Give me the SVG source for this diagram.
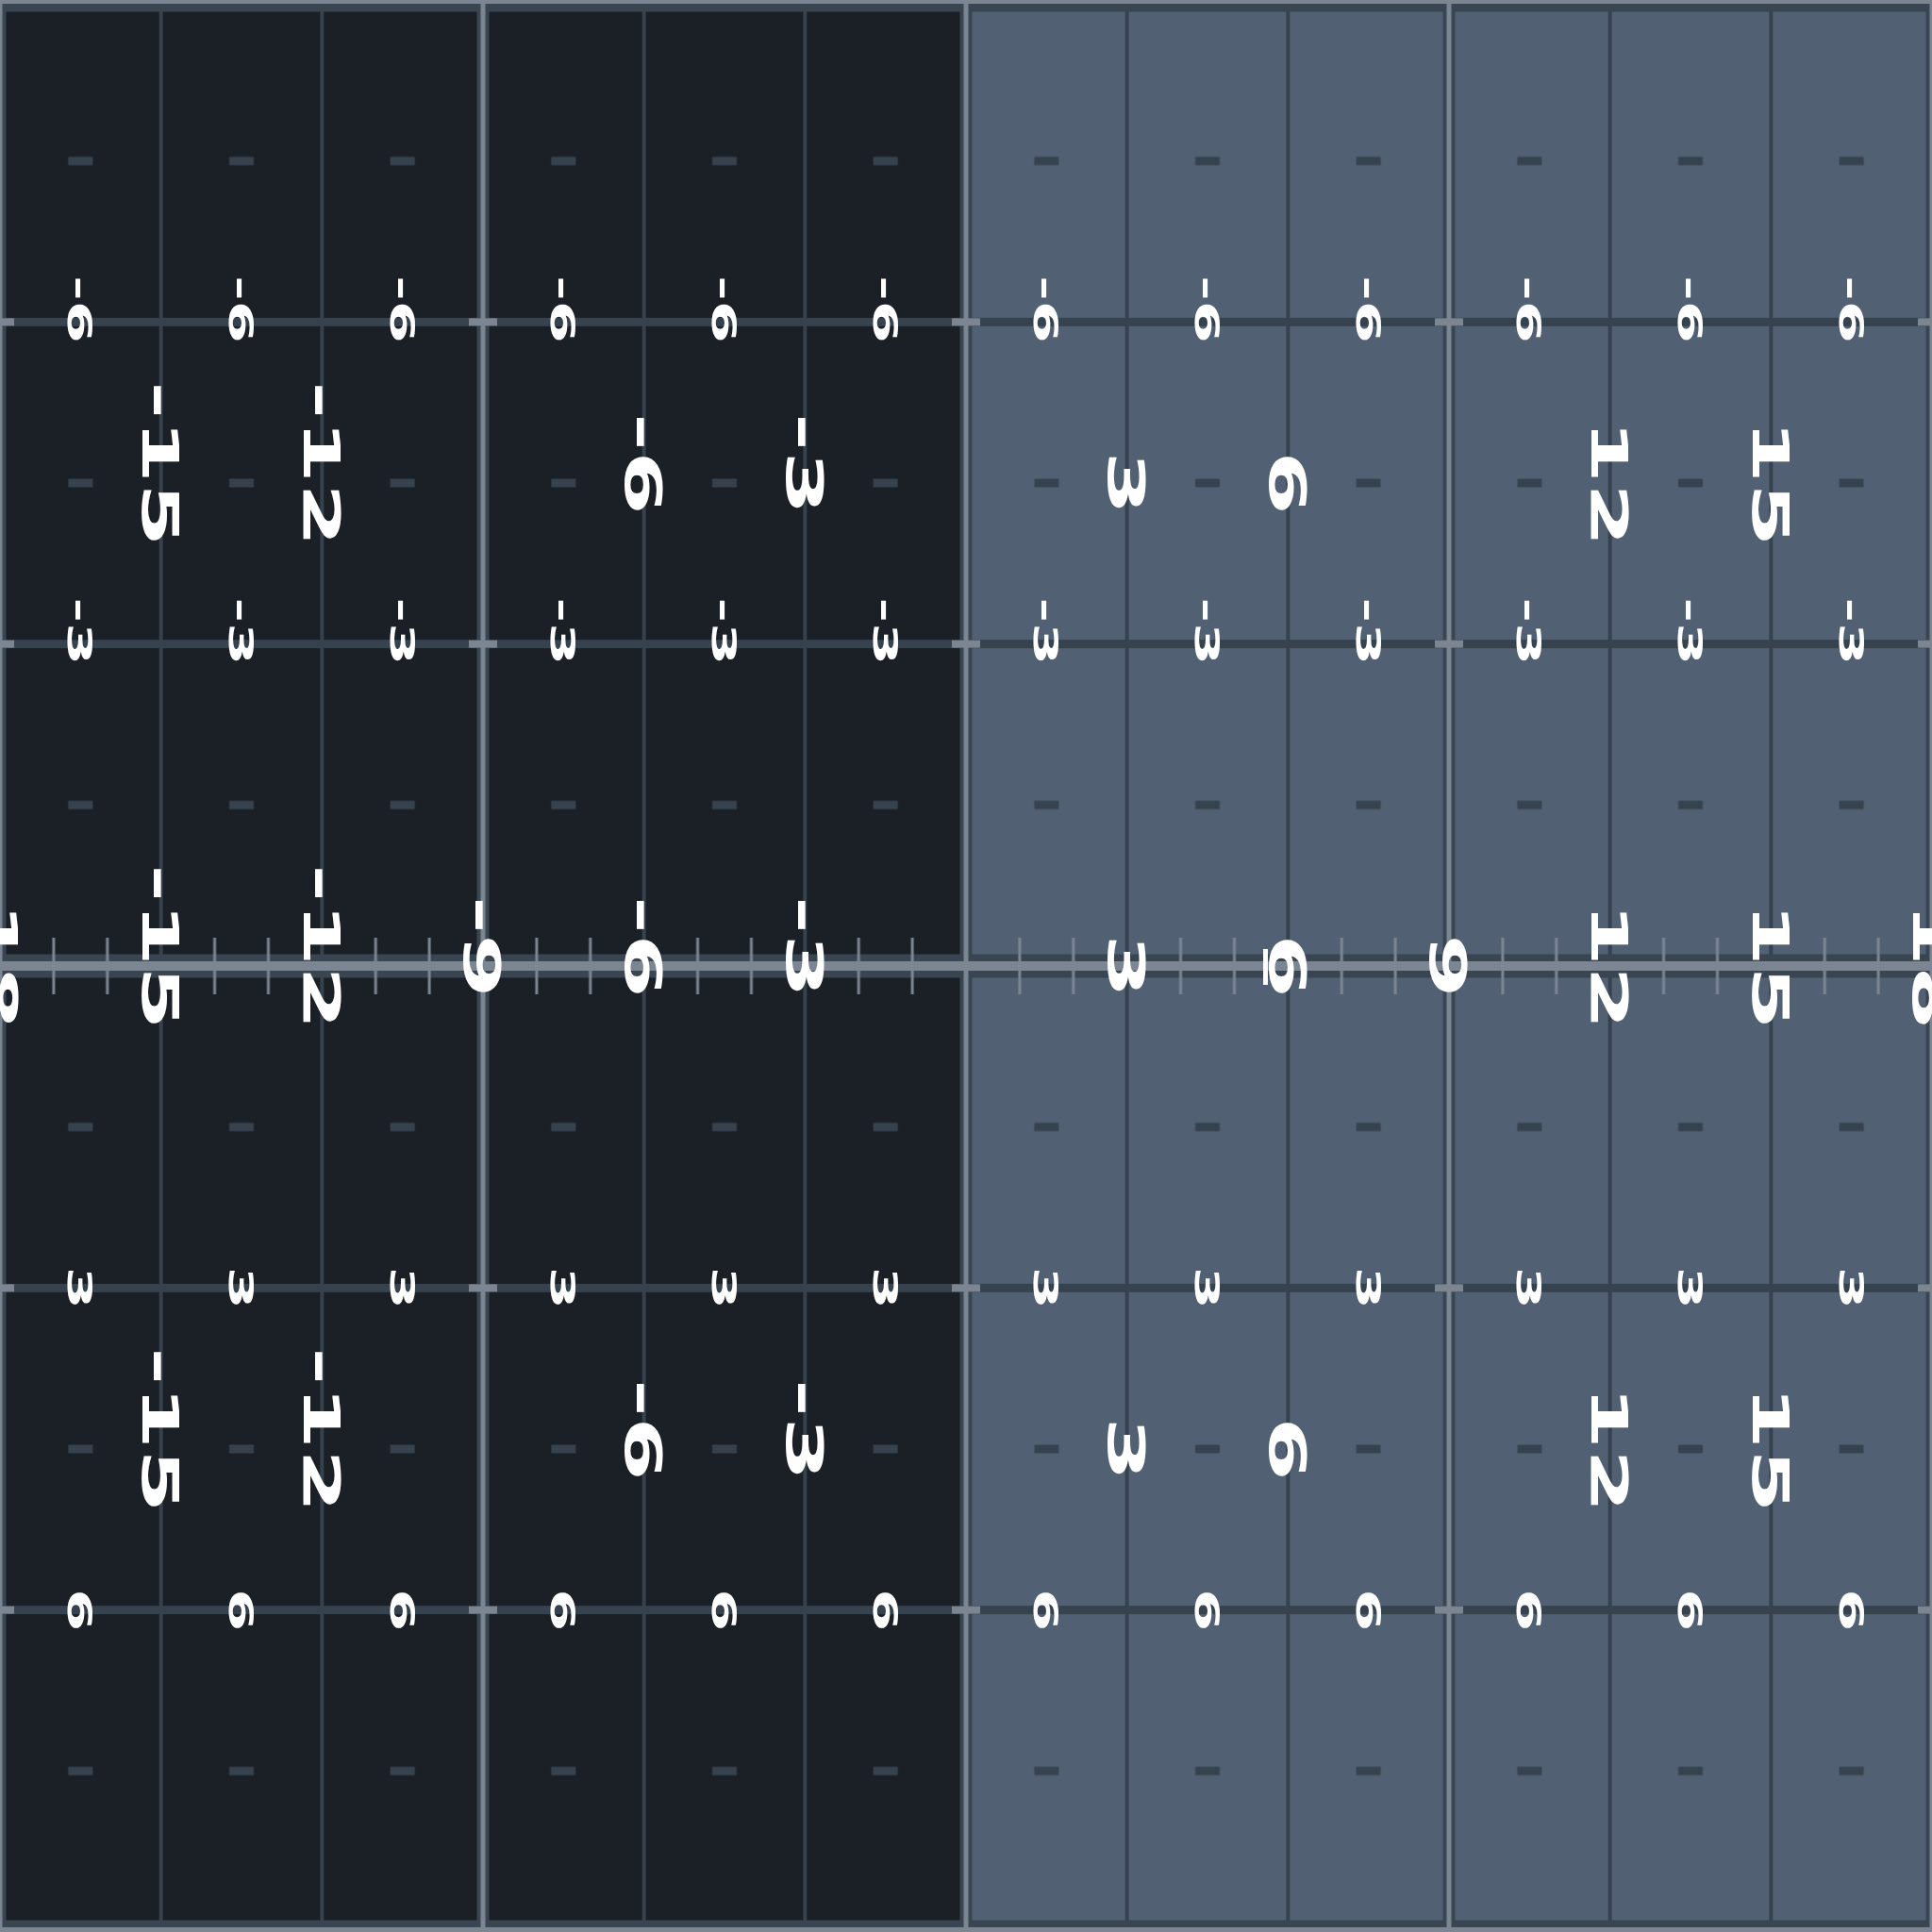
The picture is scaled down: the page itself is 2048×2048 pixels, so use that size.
<svg xmlns="http://www.w3.org/2000/svg" width="2048" height="2048" viewBox="0 0 2048 2048">
<defs>
<style>
.dk{fill:#1b1f26}
.lt{fill:#516173}
.gl{fill:#37424f}
.bd{fill:#3a4552}
.ll{fill:#7b8692}
.s,.b{font-family:"DejaVu Sans Condensed","DejaVu Sans",sans-serif;font-weight:bold;font-stretch:condensed;fill:#ffffff;text-anchor:end}
.s{font-size:36px}
.b{font-size:54px}
</style>
<pattern id="dashes" patternUnits="userSpaceOnUse" x="0" y="0" width="170.6667" height="341.3333">
<rect x="72.33" y="166.17" width="26" height="9" fill="#37424f"/>
</pattern>
<pattern id="ticks" patternUnits="userSpaceOnUse" x="0" y="994" width="170.6667" height="60">
<rect x="55.39" y="0" width="3" height="60" fill="#7b8692"/>
<rect x="112.28" y="0" width="3" height="60" fill="#7b8692"/>
</pattern>
</defs>

<g id="panels">
<rect id="p1" class="dk" x="0" y="0" width="512" height="1024"/>
<rect id="p2" class="dk" x="512" y="0" width="512" height="1024"/>
<rect id="p3" class="lt" x="1024" y="0" width="512" height="1024"/>
<rect id="p4" class="lt" x="1536" y="0" width="512" height="1024"/>
<rect id="p5" class="dk" x="0" y="1024" width="512" height="1024"/>
<rect id="p6" class="dk" x="512" y="1024" width="512" height="1024"/>
<rect id="p7" class="lt" x="1024" y="1024" width="512" height="1024"/>
<rect id="p8" class="lt" x="1536" y="1024" width="512" height="1024"/>
</g>

<g id="grid">
<rect class="gl" x="168.67" y="0" width="4" height="2048"/>
<rect class="gl" x="339.33" y="0" width="4" height="2048"/>
<rect class="gl" x="680.67" y="0" width="4" height="2048"/>
<rect class="gl" x="851.33" y="0" width="4" height="2048"/>
<rect class="gl" x="1192.67" y="0" width="4" height="2048"/>
<rect class="gl" x="1363.33" y="0" width="4" height="2048"/>
<rect class="gl" x="1704.67" y="0" width="4" height="2048"/>
<rect class="gl" x="1875.33" y="0" width="4" height="2048"/>
<rect class="gl" x="0" y="336.83" width="2048" height="9"/>
<rect class="gl" x="0" y="678.17" width="2048" height="9"/>
<rect class="gl" x="0" y="1360.83" width="2048" height="9"/>
<rect class="gl" x="0" y="1702.17" width="2048" height="9"/>
<rect x="0" y="0" width="2048" height="2048" fill="url(#dashes)"/>
</g>

<g id="borders">
<rect class="bd" x="-6.5" y="0" width="13" height="2048"/>
<rect class="bd" x="505.5" y="0" width="13" height="2048"/>
<rect class="bd" x="1017.5" y="0" width="13" height="2048"/>
<rect class="bd" x="1529.5" y="0" width="13" height="2048"/>
<rect class="bd" x="2041.5" y="0" width="13" height="2048"/>
<rect class="bd" x="0" y="-12.5" width="2048" height="25"/>
<rect class="bd" x="0" y="1011.5" width="2048" height="25"/>
<rect class="bd" x="0" y="2035.5" width="2048" height="25"/>
<rect class="ll" x="-2.5" y="0" width="5" height="2048"/>
<rect class="ll" x="509.5" y="0" width="5" height="2048"/>
<rect class="ll" x="1021.5" y="0" width="5" height="2048"/>
<rect class="ll" x="1533.5" y="0" width="5" height="2048"/>
<rect class="ll" x="2045.5" y="0" width="5" height="2048"/>
<rect class="ll" x="0" y="-4" width="2048" height="8"/>
<rect class="ll" x="0" y="1019" width="2048" height="10"/>
<rect class="ll" x="0" y="2043" width="2048" height="8"/>
</g>

<g id="stubs" class="ll">
<rect x="-15" y="337.33" width="30" height="8"/><rect x="497" y="337.33" width="30" height="8"/><rect x="1009" y="337.33" width="30" height="8"/><rect x="1521" y="337.33" width="30" height="8"/><rect x="2033" y="337.33" width="30" height="8"/>
<rect x="-15" y="678.67" width="30" height="8"/><rect x="497" y="678.67" width="30" height="8"/><rect x="1009" y="678.67" width="30" height="8"/><rect x="1521" y="678.67" width="30" height="8"/><rect x="2033" y="678.67" width="30" height="8"/>
<rect x="-15" y="1361.33" width="30" height="8"/><rect x="497" y="1361.33" width="30" height="8"/><rect x="1009" y="1361.33" width="30" height="8"/><rect x="1521" y="1361.33" width="30" height="8"/><rect x="2033" y="1361.33" width="30" height="8"/>
<rect x="-15" y="1702.67" width="30" height="8"/><rect x="497" y="1702.67" width="30" height="8"/><rect x="1009" y="1702.67" width="30" height="8"/><rect x="1521" y="1702.67" width="30" height="8"/><rect x="2033" y="1702.67" width="30" height="8"/>
</g>

<g id="axis-ticks">
<rect x="0" y="994" width="2048" height="60" fill="url(#ticks)"/>
<rect x="1339" y="1006" width="5" height="38" fill="#ffffff"/>
</g>

<g id="small-labels" class="s">
<text transform="translate(85.33,341.33) scale(1,2) rotate(90)" x="11.27" y="13.1">-6</text>
<text transform="translate(256,341.33) scale(1,2) rotate(90)" x="11.27" y="13.1">-6</text>
<text transform="translate(426.67,341.33) scale(1,2) rotate(90)" x="11.27" y="13.1">-6</text>
<text transform="translate(597.33,341.33) scale(1,2) rotate(90)" x="11.27" y="13.1">-6</text>
<text transform="translate(768,341.33) scale(1,2) rotate(90)" x="11.27" y="13.1">-6</text>
<text transform="translate(938.67,341.33) scale(1,2) rotate(90)" x="11.27" y="13.1">-6</text>
<text transform="translate(1109.33,341.33) scale(1,2) rotate(90)" x="11.27" y="13.1">-6</text>
<text transform="translate(1280,341.33) scale(1,2) rotate(90)" x="11.27" y="13.1">-6</text>
<text transform="translate(1450.67,341.33) scale(1,2) rotate(90)" x="11.27" y="13.1">-6</text>
<text transform="translate(1621.33,341.33) scale(1,2) rotate(90)" x="11.27" y="13.1">-6</text>
<text transform="translate(1792,341.33) scale(1,2) rotate(90)" x="11.27" y="13.1">-6</text>
<text transform="translate(1962.67,341.33) scale(1,2) rotate(90)" x="11.27" y="13.1">-6</text>

<text transform="translate(85.33,682.67) scale(1,2) rotate(90)" x="11.27" y="13.1">-3</text>
<text transform="translate(256,682.67) scale(1,2) rotate(90)" x="11.27" y="13.1">-3</text>
<text transform="translate(426.67,682.67) scale(1,2) rotate(90)" x="11.27" y="13.1">-3</text>
<text transform="translate(597.33,682.67) scale(1,2) rotate(90)" x="11.27" y="13.1">-3</text>
<text transform="translate(768,682.67) scale(1,2) rotate(90)" x="11.27" y="13.1">-3</text>
<text transform="translate(938.67,682.67) scale(1,2) rotate(90)" x="11.27" y="13.1">-3</text>
<text transform="translate(1109.33,682.67) scale(1,2) rotate(90)" x="11.27" y="13.1">-3</text>
<text transform="translate(1280,682.67) scale(1,2) rotate(90)" x="11.27" y="13.1">-3</text>
<text transform="translate(1450.67,682.67) scale(1,2) rotate(90)" x="11.27" y="13.1">-3</text>
<text transform="translate(1621.33,682.67) scale(1,2) rotate(90)" x="11.27" y="13.1">-3</text>
<text transform="translate(1792,682.67) scale(1,2) rotate(90)" x="11.27" y="13.1">-3</text>
<text transform="translate(1962.67,682.67) scale(1,2) rotate(90)" x="11.27" y="13.1">-3</text>

<text transform="translate(85.33,1365.33) scale(1,2) rotate(90)" x="11.27" y="13.1">3</text>
<text transform="translate(256,1365.33) scale(1,2) rotate(90)" x="11.27" y="13.1">3</text>
<text transform="translate(426.67,1365.33) scale(1,2) rotate(90)" x="11.27" y="13.1">3</text>
<text transform="translate(597.33,1365.33) scale(1,2) rotate(90)" x="11.27" y="13.1">3</text>
<text transform="translate(768,1365.33) scale(1,2) rotate(90)" x="11.27" y="13.1">3</text>
<text transform="translate(938.67,1365.33) scale(1,2) rotate(90)" x="11.27" y="13.1">3</text>
<text transform="translate(1109.33,1365.33) scale(1,2) rotate(90)" x="11.27" y="13.1">3</text>
<text transform="translate(1280,1365.33) scale(1,2) rotate(90)" x="11.27" y="13.1">3</text>
<text transform="translate(1450.67,1365.33) scale(1,2) rotate(90)" x="11.27" y="13.1">3</text>
<text transform="translate(1621.33,1365.33) scale(1,2) rotate(90)" x="11.27" y="13.1">3</text>
<text transform="translate(1792,1365.33) scale(1,2) rotate(90)" x="11.27" y="13.1">3</text>
<text transform="translate(1962.67,1365.33) scale(1,2) rotate(90)" x="11.27" y="13.1">3</text>

<text transform="translate(85.33,1706.67) scale(1,2) rotate(90)" x="11.27" y="13.1">6</text>
<text transform="translate(256,1706.67) scale(1,2) rotate(90)" x="11.27" y="13.1">6</text>
<text transform="translate(426.67,1706.67) scale(1,2) rotate(90)" x="11.27" y="13.1">6</text>
<text transform="translate(597.33,1706.67) scale(1,2) rotate(90)" x="11.27" y="13.1">6</text>
<text transform="translate(768,1706.67) scale(1,2) rotate(90)" x="11.27" y="13.1">6</text>
<text transform="translate(938.67,1706.67) scale(1,2) rotate(90)" x="11.27" y="13.1">6</text>
<text transform="translate(1109.33,1706.67) scale(1,2) rotate(90)" x="11.27" y="13.1">6</text>
<text transform="translate(1280,1706.67) scale(1,2) rotate(90)" x="11.27" y="13.1">6</text>
<text transform="translate(1450.67,1706.67) scale(1,2) rotate(90)" x="11.27" y="13.1">6</text>
<text transform="translate(1621.33,1706.67) scale(1,2) rotate(90)" x="11.27" y="13.1">6</text>
<text transform="translate(1792,1706.67) scale(1,2) rotate(90)" x="11.27" y="13.1">6</text>
<text transform="translate(1962.67,1706.67) scale(1,2) rotate(90)" x="11.27" y="13.1">6</text>
</g>

<g id="big-labels-top" class="b">
<text transform="translate(170.67,512) scale(1,2) rotate(90)" x="33.8" y="19.7">-15</text>
<text transform="translate(341.33,512) scale(1,2) rotate(90)" x="33.8" y="19.7">-12</text>
<text transform="translate(682.67,512) scale(1,2) rotate(90)" x="16.9" y="19.7">-6</text>
<text transform="translate(853.33,512) scale(1,2) rotate(90)" x="16.9" y="19.7">-3</text>
<text transform="translate(1194.67,512) scale(1,2) rotate(90)" x="16.9" y="19.7">3</text>
<text transform="translate(1365.33,512) scale(1,2) rotate(90)" x="16.9" y="19.7">6</text>
<text transform="translate(1706.67,512) scale(1,2) rotate(90)" x="33.8" y="19.7">12</text>
<text transform="translate(1877.33,512) scale(1,2) rotate(90)" x="33.8" y="19.7">15</text>
</g>

<g id="axis-labels" class="b">
<text transform="translate(0,1024) scale(1,2) rotate(90)" x="33.8" y="19.7">-18</text>
<text transform="translate(170.67,1024) scale(1,2) rotate(90)" x="33.8" y="19.7">-15</text>
<text transform="translate(341.33,1024) scale(1,2) rotate(90)" x="33.8" y="19.7">-12</text>
<text transform="translate(512,1024) scale(1,2) rotate(90)" x="16.9" y="19.7">-9</text>
<text transform="translate(682.67,1024) scale(1,2) rotate(90)" x="16.9" y="19.7">-6</text>
<text transform="translate(853.33,1024) scale(1,2) rotate(90)" x="16.9" y="19.7">-3</text>
<text transform="translate(1194.67,1024) scale(1,2) rotate(90)" x="16.9" y="19.7">3</text>
<text transform="translate(1365.33,1024) scale(1,2) rotate(90)" x="16.9" y="19.7">6</text>
<text transform="translate(1536,1024) scale(1,2) rotate(90)" x="16.9" y="19.7">9</text>
<text transform="translate(1706.67,1024) scale(1,2) rotate(90)" x="33.8" y="19.7">12</text>
<text transform="translate(1877.33,1024) scale(1,2) rotate(90)" x="33.8" y="19.7">15</text>
<text transform="translate(2048,1024) scale(1,2) rotate(90)" x="33.8" y="19.7">18</text>
</g>

<g id="big-labels-bottom" class="b">
<text transform="translate(170.67,1536) scale(1,2) rotate(90)" x="33.8" y="19.7">-15</text>
<text transform="translate(341.33,1536) scale(1,2) rotate(90)" x="33.8" y="19.7">-12</text>
<text transform="translate(682.67,1536) scale(1,2) rotate(90)" x="16.9" y="19.7">-6</text>
<text transform="translate(853.33,1536) scale(1,2) rotate(90)" x="16.9" y="19.7">-3</text>
<text transform="translate(1194.67,1536) scale(1,2) rotate(90)" x="16.9" y="19.7">3</text>
<text transform="translate(1365.33,1536) scale(1,2) rotate(90)" x="16.9" y="19.7">6</text>
<text transform="translate(1706.67,1536) scale(1,2) rotate(90)" x="33.8" y="19.7">12</text>
<text transform="translate(1877.33,1536) scale(1,2) rotate(90)" x="33.8" y="19.7">15</text>
</g>
</svg>
